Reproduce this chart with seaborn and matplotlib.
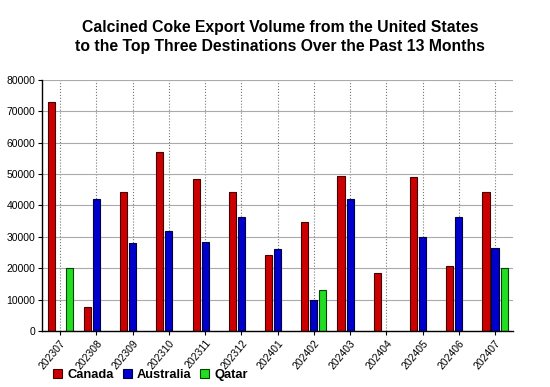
import matplotlib
matplotlib.use("Agg")
import matplotlib.pyplot as plt
import seaborn as sns
import pandas as pd
import numpy as np
from matplotlib.patches import Patch

months = ["202307", "202308", "202309", "202310", "202311", "202312", "202401",
          "202402", "202403", "202404", "202405", "202406", "202407"]
canada = [73000, 7600, 44400, 56900, 48300, 44200, 24300, 34600, 49400, 18600, 49200, 20700, 44400]
australia = [None, 42000, 27900, 32000, 28300, 36200, 26100, 10000, 42100, None, 29900, 36200, 26400]
qatar = [20000, None, None, None, None, None, None, 13100, None, None, None, None, 20000]
series_names = ["Canada", "Australia", "Qatar"]
colors = ["#cc0000", "#0000cc", "#22dd22"]
edges = ["#440000", "#000044", "#004400"]

rows = []
for name, vals in zip(series_names, [canada, australia, qatar]):
    for m, v in zip(months, vals):
        if v is not None:
            rows.append({"month": m, "country": name, "value": v})
df = pd.DataFrame(rows)

sns.set_theme(style="white")
plt.rcParams["font.family"] = ["Liberation Sans", "DejaVu Sans"]
plt.rcParams["text.color"] = "black"
plt.rcParams["xtick.color"] = "black"
plt.rcParams["ytick.color"] = "black"

fig = plt.figure(figsize=(5.5, 3.87), dpi=100)
ax = fig.add_axes([0.0764, 0.1447, 0.8566, 0.6486])

sns.barplot(data=df, x="month", y="value", hue="country", order=months,
            hue_order=series_names, palette=colors, saturation=1, width=0.75, gap=0.22,
            ax=ax, legend=False, edgecolor="#333333", linewidth=0.8)

for i, cont in enumerate(ax.containers):
    for p in cont:
        p.set_edgecolor(edges[i])

ax.set_xlim(-0.5, 12.5)
ax.set_ylim(0, 80000)
ax.set_yticks(np.arange(0, 80001, 10000))
ax.set_yticklabels([str(v) for v in range(0, 80001, 10000)], fontsize=7.5)
ax.set_xticks(range(len(months)))
ax.set_xticklabels(months, rotation=50, ha="right", rotation_mode="anchor", fontsize=7.5)
ax.set_xlabel("")
ax.set_ylabel("")
ax.yaxis.grid(True, color="#aaaaaa", linestyle="-", linewidth=0.8)
ax.xaxis.grid(True, color="#777777", linestyle=":", linewidth=0.8)
ax.set_axisbelow(True)
for s in ["top", "right"]:
    ax.spines[s].set_visible(False)
for s in ["left", "bottom"]:
    ax.spines[s].set_color("black")
    ax.spines[s].set_linewidth(1.0)
ax.tick_params(axis="both", which="both", length=3, width=0.8, color="black",
               bottom=True, left=True, pad=2)

fig.text(0.509, 0.918, "Calcined Coke Export Volume from the United States",
         ha="center", va="baseline", fontsize=11.3, fontweight="bold")
fig.text(0.509, 0.869, "to the Top Three Destinations Over the Past 13 Months",
         ha="center", va="baseline", fontsize=11.3, fontweight="bold")

handles = [Patch(facecolor=c, edgecolor=e, linewidth=0.8) for c, e in zip(colors, edges)]
fig.legend(handles, series_names, loc="lower left", bbox_to_anchor=(0.075, -0.015),
           ncol=3, frameon=False, prop={"weight": "bold", "size": 9.3},
           handlelength=0.7, handleheight=0.7, handletextpad=0.4, columnspacing=0.7)

fig.savefig("out.png", dpi=100)
